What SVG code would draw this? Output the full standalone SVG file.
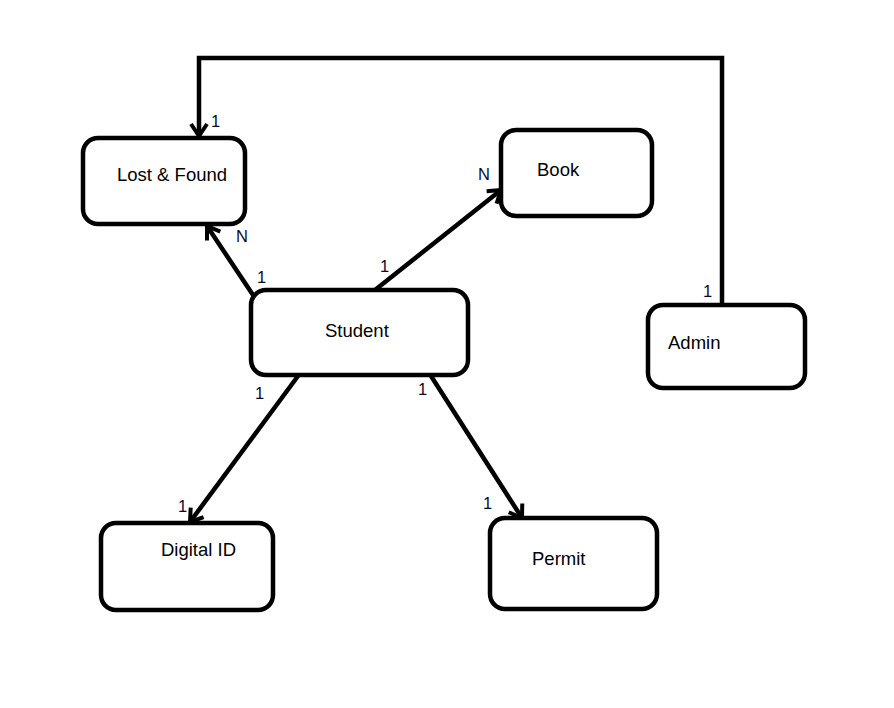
<svg xmlns="http://www.w3.org/2000/svg" width="894" height="708" viewBox="0 0 894 708">
<style>
.box{fill:#fff;stroke:#000;stroke-width:4.5}
.lbl{font-family:"Liberation Sans",Arial,sans-serif;font-size:18.5px;fill:#000}
.card{font-family:"Liberation Sans",Arial,sans-serif;font-size:16.5px;fill:#0a0a28}
.con{fill:none;stroke:#000;stroke-width:4.5;stroke-linejoin:miter}
</style>
<defs>
<marker id="arr" viewBox="-15 -10 18 20" markerWidth="18" markerHeight="20" refX="0" refY="0" orient="auto" markerUnits="userSpaceOnUse">
<path d="M-12,-8 L0,0 L-12,8" fill="none" stroke="#000" stroke-width="4"/>
</marker>
</defs>
<rect width="894" height="708" fill="#fff"/>
<g id="connectors">
<path class="con" d="M722,305 V58 H199 V136" marker-end="url(#arr)"/>
<path class="con" d="M253,295 L207,226" marker-end="url(#arr)"/>
<path class="con" d="M375,290 L501,190" marker-end="url(#arr)"/>
<path class="con" d="M298,376 L190,522" marker-end="url(#arr)"/>
<path class="con" d="M431,376 L522,518" marker-end="url(#arr)"/>
<text class="card" x="211" y="127">1</text>
<text class="card" x="703" y="297">1</text>
<text class="card" x="236" y="242">N</text>
<text class="card" x="257" y="283">1</text>
<text class="card" x="380" y="272">1</text>
<text class="card" x="478" y="180">N</text>
<text class="card" x="255" y="399">1</text>
<text class="card" x="418" y="395">1</text>
<text class="card" x="178" y="512">1</text>
<text class="card" x="483" y="509">1</text>
</g>
<g id="lostfound"><rect class="box" x="83" y="138" width="162" height="86" rx="15"/><text class="lbl" x="117" y="181">Lost &amp; Found</text></g>
<g id="book"><rect class="box" x="501" y="130" width="151" height="86" rx="15"/><text class="lbl" x="537" y="176">Book</text></g>
<g id="student"><rect class="box" x="251" y="290" width="217" height="85" rx="15"/><text class="lbl" x="325" y="337">Student</text></g>
<g id="admin"><rect class="box" x="648" y="305" width="157" height="83" rx="15"/><text class="lbl" x="668" y="349">Admin</text></g>
<g id="digitalid"><rect class="box" x="101" y="523" width="172" height="87" rx="15"/><text class="lbl" x="161" y="556">Digital ID</text></g>
<g id="permit"><rect class="box" x="490" y="518" width="167" height="91" rx="15"/><text class="lbl" x="532" y="565">Permit</text></g>
</svg>
